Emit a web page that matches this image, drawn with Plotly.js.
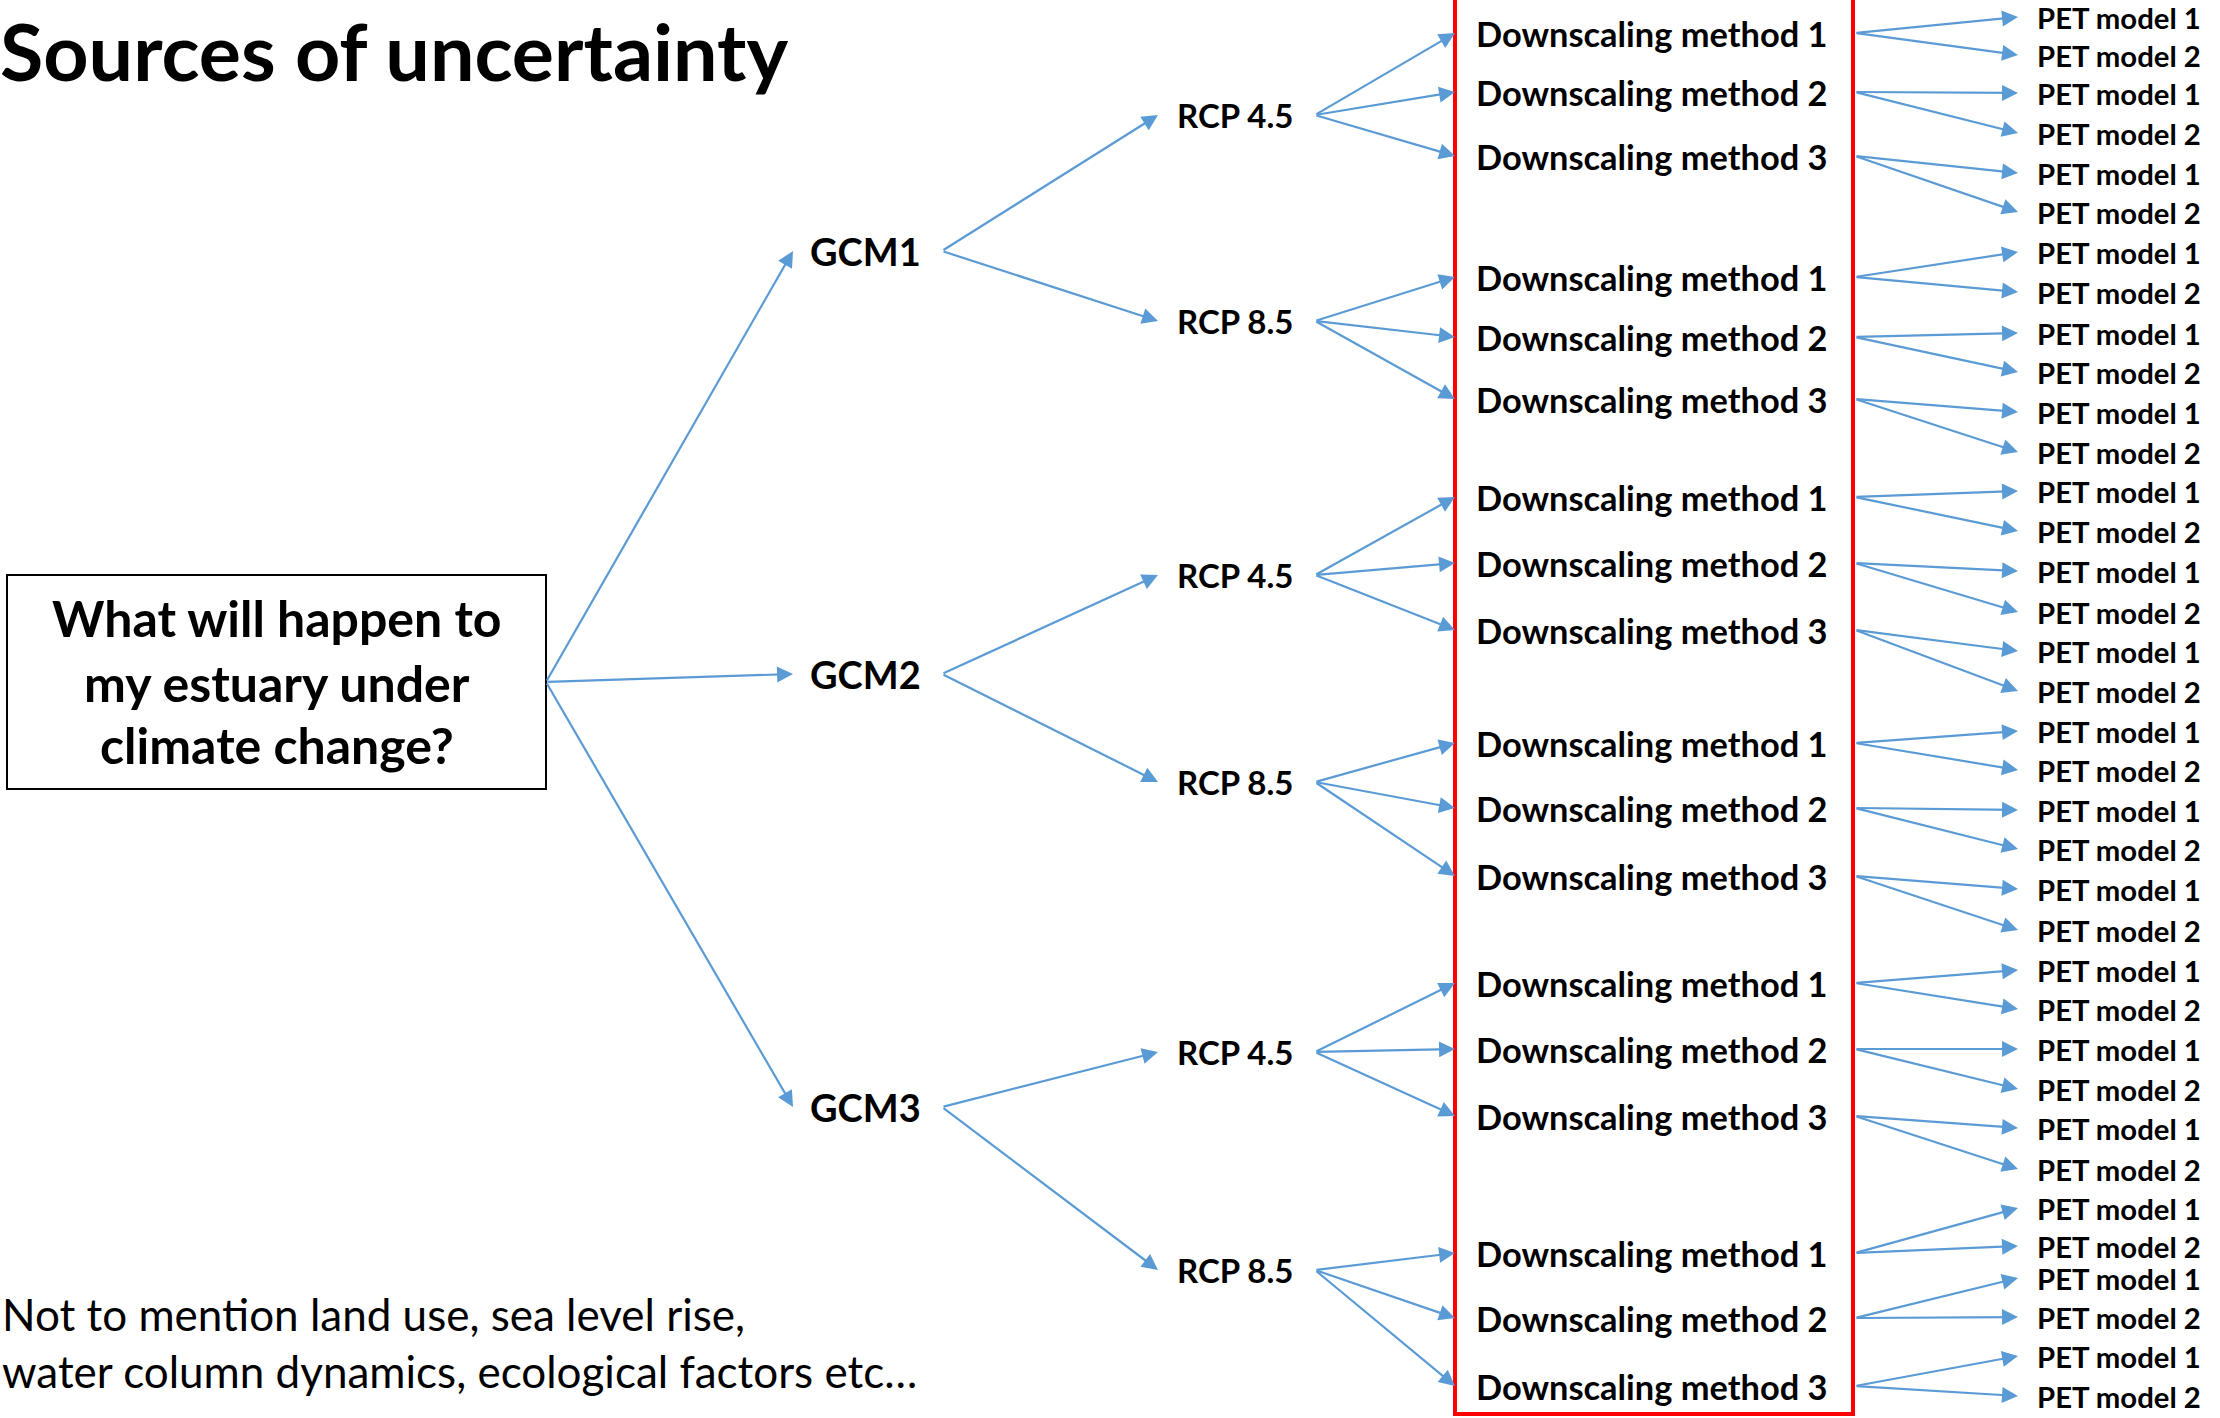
<!DOCTYPE html>
<html>
<head>
<meta charset="utf-8">
<script src="https://cdn.plot.ly/plotly-3.0.1.min.js"></script>
<style>html,body{margin:0;padding:0;background:#fff;overflow:hidden}</style>
</head>
<body>
<div id="chart" style="width:2220px;height:1418px"></div>
<script>
// ---------- content ----------
const chartTitle = 'Sources of uncertainty';
const rootQuestion = ['What will happen to', 'my estuary under', 'climate change?'];
const gcmLabels = ['GCM1', 'GCM2', 'GCM3'];
const rcpLabels = ['RCP 4.5', 'RCP 8.5', 'RCP 4.5', 'RCP 8.5', 'RCP 4.5', 'RCP 8.5'];
const downscalingLabels = [
  'Downscaling method 1', 'Downscaling method 2', 'Downscaling method 3',
  'Downscaling method 1', 'Downscaling method 2', 'Downscaling method 3',
  'Downscaling method 1', 'Downscaling method 2', 'Downscaling method 3',
  'Downscaling method 1', 'Downscaling method 2', 'Downscaling method 3',
  'Downscaling method 1', 'Downscaling method 2', 'Downscaling method 3',
  'Downscaling method 1', 'Downscaling method 2', 'Downscaling method 3'
];
const petLabels = [
  'PET model 1', 'PET model 2', 'PET model 1', 'PET model 2', 'PET model 1', 'PET model 2',
  'PET model 1', 'PET model 2', 'PET model 1', 'PET model 2', 'PET model 1', 'PET model 2',
  'PET model 1', 'PET model 2', 'PET model 1', 'PET model 2', 'PET model 1', 'PET model 2',
  'PET model 1', 'PET model 2', 'PET model 1', 'PET model 2', 'PET model 1', 'PET model 2',
  'PET model 1', 'PET model 2', 'PET model 1', 'PET model 2', 'PET model 1', 'PET model 2',
  'PET model 1', 'PET model 2', 'PET model 1', 'PET model 2', 'PET model 1', 'PET model 2'
];
const footnote = ['Not to mention land use, sea level rise,', 'water column dynamics, ecological factors etc\u2026'];

// ---------- layout positions (pixel space of the page) ----------
const gcmY = [251, 674, 1107];
const rcpY = [115, 321, 575, 782, 1052, 1270];
const dsY = [33, 92, 156, 277, 337, 399, 497, 563, 630, 743, 808, 876, 983, 1049, 1116, 1253, 1318, 1386];
const petY = [17, 55, 93, 133, 173, 212, 252, 292, 333, 372, 412, 452, 491, 531, 571, 612, 651, 691,
              731, 770, 810, 849, 889, 930, 970, 1009, 1049, 1089, 1128, 1169, 1208, 1246, 1278, 1317, 1356, 1396];
const rootLineY = [618, 683, 745];
const footY = [1314, 1371];

const col = {
  rootOut: 546, gcmTip: 793, gcmText: 808, gcmOut: 942,
  rcpTip: 1158, rcpText: 1175, rcpOut: 1315,
  dsTip: 1455, dsText: 1474, dsOut: 1855,
  petTip: 2018, petText: 2035, footText: 0
};
const rootBox = {x0: 7, x1: 546, y0: 575, y1: 789};
const redBox = {x0: 1455, x1: 1853, y0: -10, y1: 1414};

const FONT = 'Lato, "Open Sans", sans-serif';
const BLUE = '#5B9BD5';
const sizes = {title: 79, root: 50, gcm: 38, rcp: 33, ds: 34.4, pet: 29.3, foot: 44};

const ann = [];
function label(x, y, text, size, bold, xanchor) {
  ann.push({x: x, y: y, xref: 'x', yref: 'y', text: text, showarrow: false,
    xanchor: xanchor || 'left', yanchor: 'middle', align: 'left',
    font: {family: FONT, size: size, color: '#000', weight: bold ? 700 : 400}});
}
function arrow(x0, y0, x1, y1) {
  ann.push({x: x1, y: y1, ax: x0, ay: y0, xref: 'x', yref: 'y', axref: 'x', ayref: 'y',
    text: '', showarrow: true, arrowhead: 2, arrowsize: 1.45, arrowwidth: 2.2,
    arrowcolor: BLUE, standoff: 0, startstandoff: 0});
}

const rootOutY = (rootBox.y0 + rootBox.y1) / 2;
rootQuestion.forEach((t, i) => label((rootBox.x0 + rootBox.x1) / 2, rootLineY[i], t, sizes.root, true, 'center'));

gcmLabels.forEach((t, g) => {
  arrow(col.rootOut, rootOutY, col.gcmTip, gcmY[g]);
  label(col.gcmText, gcmY[g], t, sizes.gcm, true);
});
rcpLabels.forEach((t, r) => {
  const g = Math.floor(r / 2);
  arrow(col.gcmOut, gcmY[g], col.rcpTip, rcpY[r]);
  label(col.rcpText, rcpY[r], t, sizes.rcp, true);
});
downscalingLabels.forEach((t, d) => {
  const r = Math.floor(d / 3);
  arrow(col.rcpOut, rcpY[r], col.dsTip, dsY[d]);
  label(col.dsText, dsY[d], t, sizes.ds, true);
});
petLabels.forEach((t, p) => {
  const d = Math.floor(p / 2);
  arrow(col.dsOut, dsY[d], col.petTip, petY[p]);
  label(col.petText, petY[p], t, sizes.pet, true);
});
footnote.forEach((t, i) => label(col.footText, footY[i], t, sizes.foot, false));

const shapes = [
  {type: 'rect', xref: 'x', yref: 'y', x0: rootBox.x0, x1: rootBox.x1, y0: rootBox.y0, y1: rootBox.y1,
   line: {color: '#000', width: 2}, fillcolor: 'rgba(0,0,0,0)', layer: 'below'},
  {type: 'rect', xref: 'x', yref: 'y', x0: redBox.x0, x1: redBox.x1, y0: redBox.y0, y1: redBox.y1,
   line: {color: '#FF0000', width: 4}, fillcolor: 'rgba(0,0,0,0)', layer: 'above'}
];

const layout = {
  width: 2220, height: 1418,
  margin: {l: 0, r: 0, t: 0, b: 0, pad: 0},
  paper_bgcolor: '#fff', plot_bgcolor: '#fff',
  showlegend: false,
  title: {text: chartTitle, x: 0, xref: 'paper', xanchor: 'left',
          y: 1 - 53 / 1418, yref: 'container', yanchor: 'middle',
          pad: {l: 0, r: 0, t: 0, b: 0},
          font: {family: FONT, size: sizes.title, color: '#000', weight: 700}},
  xaxis: {range: [0, 2220], visible: false, fixedrange: true},
  yaxis: {range: [1418, 0], visible: false, fixedrange: true},
  annotations: ann,
  shapes: shapes
};

Plotly.newPlot('chart', [], layout, {staticPlot: true, displayModeBar: false});
</script>
</body>
</html>
